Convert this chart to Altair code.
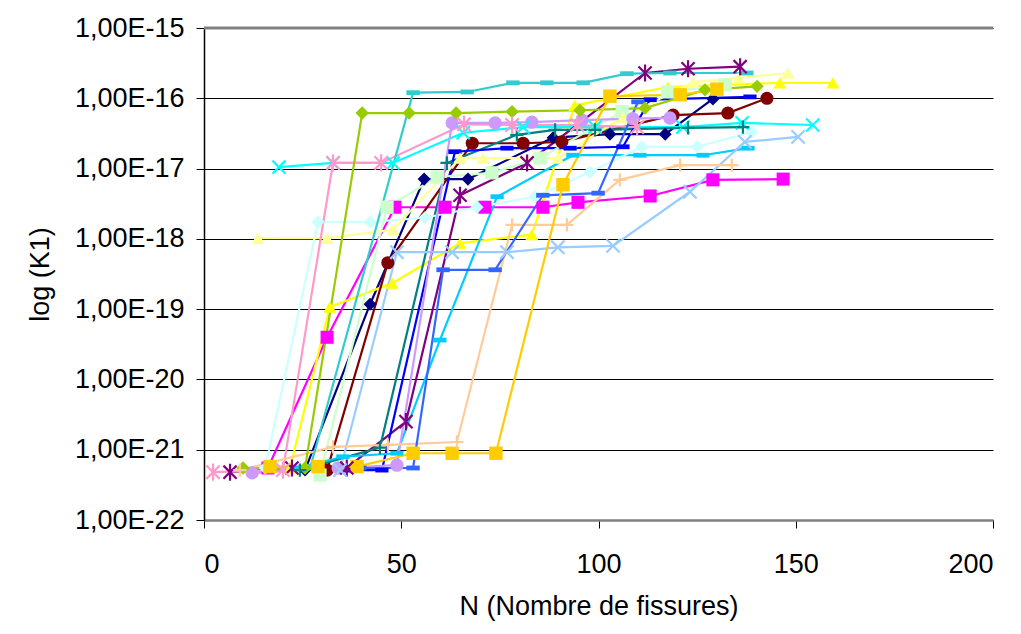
import altair as alt
import pandas as pd

# ---- data: N (number of cracks) and exponent of K1 (K1 = 10**exponent) ----
n01 = [25.6, 42.1, 55.8, 66.9, 88.5, 102.9, 116.9, 129.0]
e01 = [-21.29, -18.93, -17.15, -17.15, -16.56, -16.51, -16.51, -16.01]

n02 = [16.2, 31.2, 48.4, 61.1, 71.2, 85.9, 94.8, 113.1, 129.0, 146.8]
e02 = [-21.26, -19.40, -17.55, -17.55, -17.55, -17.55, -17.48, -17.39, -17.16, -17.15]

n03 = [21.8, 31.9, 47.7, 64.9, 83.1, 94.0, 117.6, 146.0, 159.4]
e03 = [-21.26, -18.97, -18.63, -18.06, -17.94, -16.10, -15.84, -15.78, -15.78]

n04 = [19.0, 32.7, 47.9, 65.7, 80.9, 99.1, 121.4, 136.4, 154.3]
e04 = [-16.98, -16.92, -16.92, -16.49, -16.41, -16.41, -16.41, -16.35, -16.38]

n05 = [6.6, 22.3, 36.2, 51.2, 64.9, 81.9, 111.8, 122.7, 135.9]
e05 = [-21.32, -21.26, -21.26, -20.60, -17.38, -16.92, -15.64, -15.58, -15.55]

n06 = [31.2, 46.6, 68.0, 80.9, 90.7, 118.9, 132.8, 142.7]
e06 = [-21.29, -18.34, -16.64, -16.64, -16.62, -16.24, -16.21, -16.00]

n07 = [24.3, 44.6, 61.6, 79.3, 89.0, 99.1, 122.7, 136.6]
e07 = [-21.29, -20.97, -16.92, -16.52, -16.45, -16.45, -16.42, -16.41]

n08 = [35.7, 45.1, 63.6, 76.8, 92.8, 106.2, 113.1, 138.4]
e08 = [-21.29, -21.29, -16.76, -16.71, -16.71, -16.69, -16.02, -15.98]

n09 = [23.6, 35.2, 48.9, 59.8, 74.3, 93.5, 110.5, 126.5, 137.9]
e09 = [-21.26, -21.10, -21.05, -19.44, -17.40, -16.81, -16.81, -16.81, -16.71]

n10 = [15.5, 28.9, 42.1, 56.0, 69.2, 83.9, 97.8, 111.0, 125.0, 138.9]
e10 = [-21.26, -17.76, -17.76, -17.70, -17.55, -17.40, -17.05, -16.69, -16.69, -16.48]

n11 = [29.4, 46.4, 59.1, 73.0, 85.2, 106.0, 117.6, 132.1]
e11 = [-21.36, -17.55, -17.12, -17.06, -16.85, -16.19, -15.91, -15.81]

n12 = [13.7, 31.2, 47.9, 64.9, 70.7, 89.7, 106.2, 124.0, 135.4, 148.0]
e12 = [-17.99, -17.99, -17.87, -16.85, -16.85, -16.85, -16.27, -15.77, -15.71, -15.64]

n13 = [34.5, 48.9, 62.9, 76.8, 89.7, 103.7, 123.2, 137.1, 150.6]
e13 = [-21.29, -18.19, -18.19, -18.19, -18.12, -18.10, -17.33, -16.62, -16.55]

n14 = [2.3, 20.0, 32.7, 44.9, 65.9, 78.1, 94.6, 109.8]
e14 = [-21.32, -21.29, -16.92, -16.92, -16.37, -16.38, -16.38, -16.41]

n15 = [12.2, 34.0, 48.9, 62.9, 73.8, 83.1, 95.8, 108.7, 118.1]
e15 = [-21.33, -21.26, -21.22, -16.35, -16.35, -16.34, -16.31, -16.29, -16.28]

n16 = [9.1, 32.7, 46.6, 64.1, 78.1, 92.0, 105.4, 120.7, 133.8]
e16 = [-21.29, -20.96, -20.93, -20.89, -17.80, -17.80, -17.16, -16.95, -16.95]

n17 = [39.5, 53.0, 60.6, 73.8, 85.9, 99.9, 110.0]
e17 = [-21.26, -21.26, -18.44, -18.44, -17.38, -17.35, -16.05]

n18 = [26.9, 53.0, 66.7, 78.3, 86.9, 96.1, 107.2, 118.1, 137.6]
e18 = [-21.26, -15.92, -15.91, -15.78, -15.78, -15.78, -15.65, -15.64, -15.64]

n19 = [9.9, 25.6, 40.1, 52.0, 63.9, 78.1, 95.3, 111.8, 127.0, 140.2]
e19 = [-21.26, -21.26, -16.21, -16.21, -16.21, -16.19, -16.17, -16.14, -15.88, -15.83]

n20 = [16.7, 28.9, 38.8, 53.0, 62.9, 74.0, 91.0, 102.9, 120.7, 130.0]
e20 = [-21.24, -21.24, -21.24, -21.05, -21.05, -21.05, -17.23, -15.97, -15.95, -15.87]

y_ticks = [1e-22, 1e-21, 1e-20, 1e-19, 1e-18, 1e-17, 1e-16, 1e-15]
x_ticks = [0, 50, 100, 150, 200]

# ---- styles ----
X_PATH = "M-1,-1L1,1M-1,1L1,-1"
STAR_PATH = "M-1,-1L1,1M-1,1L1,-1M0,-1.3L0,1.3"
PLUS_PATH = "M-1,0L1,0M0,-1L0,1"
BAR_PATH = "M-1,-0.36L1,-0.36L1,0.36L-1,0.36Z"

style = [
    ("S01", "#000080", "diamond", 170, False),
    ("S02", "#FF00FF", "square", 180, False),
    ("S03", "#FFFF00", "triangle-up", 190, False),
    ("S04", "#00FFFF", X_PATH, 200, True),
    ("S05", "#800080", STAR_PATH, 200, True),
    ("S06", "#800000", "circle", 190, False),
    ("S07", "#008080", PLUS_PATH, 220, True),
    ("S08", "#0000FF", BAR_PATH, 110, False),
    ("S09", "#00CCFF", BAR_PATH, 290, False),
    ("S10", "#CCFFFF", "diamond", 170, False),
    ("S11", "#CCFFCC", "square", 180, False),
    ("S12", "#FFFF99", "triangle-up", 190, False),
    ("S13", "#99CCFF", X_PATH, 200, True),
    ("S14", "#FF99CC", STAR_PATH, 200, True),
    ("S15", "#CC99FF", "circle", 190, False),
    ("S16", "#FFCC99", PLUS_PATH, 220, True),
    ("S17", "#3366FF", BAR_PATH, 110, False),
    ("S18", "#33CCCC", BAR_PATH, 290, False),
    ("S19", "#99CC00", "diamond", 170, False),
    ("S20", "#FFCC00", "square", 180, False),
]

data_lists = [
    (n01, e01), (n02, e02), (n03, e03), (n04, e04), (n05, e05),
    (n06, e06), (n07, e07), (n08, e08), (n09, e09), (n10, e10),
    (n11, e11), (n12, e12), (n13, e13), (n14, e14), (n15, e15),
    (n16, e16), (n17, e17), (n18, e18), (n19, e19), (n20, e20),
]

rows = []
for (name, _c, _s, _z, _st), (ns, es) in zip(style, data_lists):
    for i, (n, e) in enumerate(zip(ns, es)):
        rows.append({"series": name, "N": n, "K": 10 ** e, "idx": i})
df = pd.DataFrame(rows)

names = [s[0] for s in style]
colors = [s[1] for s in style]
shapes = [s[2] for s in style]
sizes = [s[3] for s in style]
stroked_names = [s[0] for s in style if s[4]]
filled_names = [s[0] for s in style if not s[4]]

FONT = "Liberation Sans"
FS = 27

x_enc = alt.X(
    "N:Q",
    scale=alt.Scale(domain=[0, 200], nice=False),
    axis=alt.Axis(
        values=x_ticks, title="N (Nombre de fissures)", grid=False,
        labelFont=FONT, titleFont=FONT, labelFontSize=FS, titleFontSize=FS,
        titleFontWeight="normal", labelColor="black", titleColor="black",
        domainColor="#808080", domainWidth=2.5, tickColor="black", tickSize=8,
        labelPadding=23, titlePadding=16,
    ),
)
y_enc = alt.Y(
    "K:Q",
    scale=alt.Scale(type="log", domain=[1e-22, 1e-15], nice=False),
    axis=alt.Axis(
        values=y_ticks, title="log (K1)",
        labelExpr="'1,00E' + round(log(datum.value) / LN10)",
        grid=True, gridColor="black", gridWidth=1,
        labelFont=FONT, titleFont=FONT, labelFontSize=FS, titleFontSize=FS,
        titleFontWeight="normal", labelColor="black", titleColor="black",
        domainColor="black", domainWidth=1.5, tickColor="black", tickSize=8,
        labelPadding=12, titlePadding=20,
    ),
)
color_scale = alt.Scale(domain=names, range=colors)
shape_scale = alt.Scale(domain=names, range=shapes)
size_scale = alt.Scale(domain=names, range=sizes)

base = alt.Chart(df)

lines = base.mark_line(strokeWidth=2.2, clip=False).encode(
    x=x_enc, y=y_enc,
    color=alt.Color("series:N", scale=color_scale, legend=None),
    order="idx:Q",
)

pts_filled = base.transform_filter(
    alt.FieldOneOfPredicate(field="series", oneOf=filled_names)
).mark_point(filled=True, opacity=1, strokeWidth=0).encode(
    x="N:Q", y="K:Q",
    color=alt.Color("series:N", scale=color_scale, legend=None),
    shape=alt.Shape("series:N", scale=shape_scale, legend=None),
    size=alt.Size("series:N", scale=size_scale, legend=None),
)

pts_stroked = base.transform_filter(
    alt.FieldOneOfPredicate(field="series", oneOf=stroked_names)
).mark_point(filled=False, opacity=1, strokeWidth=2.2).encode(
    x="N:Q", y="K:Q",
    color=alt.Color("series:N", scale=color_scale, legend=None),
    shape=alt.Shape("series:N", scale=shape_scale, legend=None),
    size=alt.Size("series:N", scale=size_scale, legend=None),
)

top_line = alt.Chart(pd.DataFrame({"K": [1e-15]})).mark_rule(
    color="#808080", strokeWidth=3
).encode(y="K:Q")

chart = alt.layer(lines, pts_filled, pts_stroked, top_line).resolve_scale(
    size="independent"
).properties(
    width=789, height=492,
    padding={"left": 196, "top": 20, "right": 20, "bottom": 110},
    autosize=alt.AutoSizeParams(type="none"),
    background="white",
).configure_view(stroke=None)

chart.save("out.html", embed_options={"renderer": "svg", "actions": False})
